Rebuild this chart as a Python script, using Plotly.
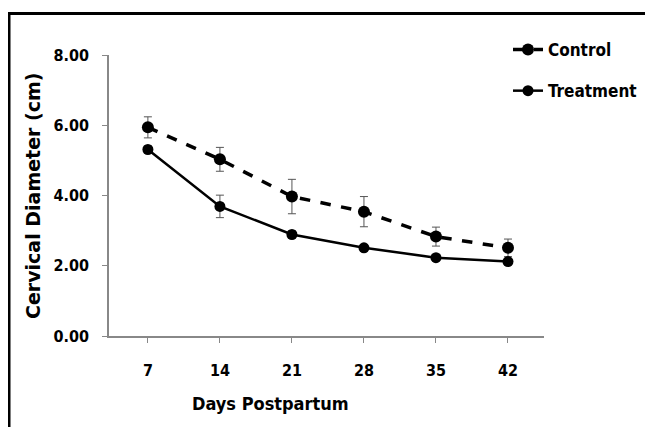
import plotly.graph_objects as go

days = ["7", "14", "21", "28", "35", "42"]
control = [5.94, 5.03, 3.97, 3.54, 2.83, 2.51]
control_err = [0.30, 0.34, 0.49, 0.43, 0.27, 0.25]
treatment = [5.31, 3.69, 2.89, 2.51, 2.23, 2.12]
treatment_err = [0.10, 0.32, 0.10, 0.08, 0.08, 0.08]
y_ticks = [0, 2, 4, 6, 8]
y_tick_text = ["0.00", "2.00", "4.00", "6.00", "8.00"]

xs = list(range(len(days)))
OFF = 8  # page body margin
W, H = 653 - OFF, 427 - OFF
# target plot area in screen pixels
SL, SR, ST, SB = 109, 544, 55, 336
L, T = SL - OFF, ST - OFF
R = W - (SR - OFF)
B = H - (SB - OFF)
pw, ph = SR - SL, SB - ST

def px_x(p):
    return (p - SL) / pw

def px_y(p):
    return (SB - p) / ph

narrow = "DejaVu Sans Condensed, Liberation Sans Narrow, Arial Narrow, sans-serif"
err_style = dict(type="data", thickness=1, width=4, color="#555555")

fig = go.Figure()
fig.add_trace(go.Scatter(
    x=xs, y=control, name="Control", mode="lines+markers",
    line=dict(color="black", width=3.5, dash="dash"),
    marker=dict(color="black", size=12, symbol="circle"),
    error_y=dict(array=control_err, **err_style),
    legendgroup="c",
))
fig.add_trace(go.Scatter(
    x=xs, y=treatment, name="Treatment", mode="lines+markers",
    line=dict(color="black", width=2.5),
    marker=dict(color="black", size=11, symbol="circle"),
    error_y=dict(array=treatment_err, **err_style),
    legendgroup="t",
))

fig.update_layout(
    width=W, height=H,
    margin=dict(l=L, r=R, t=T, b=B, autoexpand=False),
    plot_bgcolor="white", paper_bgcolor="white",
    showlegend=True,
    legend=dict(x=px_x(642), y=px_y(32), xanchor="right", yanchor="top",
                font=dict(family=narrow, size=17, color="black", weight="bold"),
                tracegroupgap=16, bgcolor="rgba(0,0,0,0)"),
    xaxis=dict(range=[-0.54, 5.5], tickmode="array", tickvals=xs, ticktext=days,
               showgrid=False, zeroline=False, showline=True, linecolor="#888888",
               linewidth=1.5, ticks="outside", ticklen=5, tickcolor="#888888",
               ticklabelstandoff=14, automargin=False,
               tickfont=dict(family=narrow, size=16, color="black", weight="bold")),
    yaxis=dict(range=[0, 8], tickmode="array", tickvals=y_ticks, ticktext=y_tick_text,
               showgrid=False, zeroline=False, showline=True, linecolor="#888888",
               linewidth=1.5, ticks="outside", ticklen=5, tickcolor="#888888",
               ticklabelstandoff=10, automargin=False,
               tickfont=dict(family=narrow, size=16, color="black", weight="bold")),
    annotations=[
        dict(text="<b>Days Postpartum</b>", xref="paper", yref="paper",
             x=px_x(270), y=px_y(403), xanchor="center", yanchor="middle",
             showarrow=False, font=dict(family=narrow, size=18, color="black")),
        dict(text="<b>Cervical Diameter (cm)</b>", xref="paper", yref="paper",
             x=px_x(33), y=px_y(196), xanchor="center", yanchor="middle",
             textangle=-90, showarrow=False,
             font=dict(family="DejaVu Sans, Liberation Sans, Arial, sans-serif", size=19, color="black")),
    ],
    shapes=[
        dict(type="line", xref="paper", yref="paper", x0=px_x(8), x1=px_x(660),
             y0=px_y(13.5), y1=px_y(13.5), line=dict(color="black", width=3)),
        dict(type="line", xref="paper", yref="paper", x0=px_x(9), x1=px_x(9),
             y0=px_y(12), y1=px_y(430), line=dict(color="black", width=3)),
    ],
)

fig.write_html("out.html")
